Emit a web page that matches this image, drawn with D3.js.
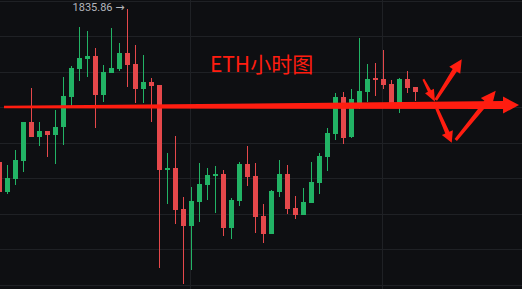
<!DOCTYPE html>
<html>
<head>
<meta charset="utf-8">
<script src="https://cdn.jsdelivr.net/npm/d3@7"></script>
<style>
  html, body { margin: 0; padding: 0; background: #0e0f12; overflow: hidden; }
  svg { display: block; }
</style>
</head>
<body>
<svg id="chart"></svg>
<script>
// ETH 1h candles
const opens  = [1814.25,1810.07,1811.90,1814.44,1819.89,1817.82,1818.62,1818.10,1819.15,1823.45,
                1827.39,1828.80,1829.18,1823.73,1826.83,1827.39,1829.61,1828.00,1824.58,1825.52,
                1825.10,1813.17,1813.41,1807.63,1805.28,1808.66,1811.06,1812.32,1812.56,1805.00,
                1808.80,1813.97,1812.28,1806.65,1804.15,1810.03,1812.56,1807.77,1806.79,1808.48,
                1811.30,1814.96,1818.20,1823.41,1817.73,1822.42,1824.11,1826.08,1825.94,1825.24,
                1822.42,1825.94,1824.82];
const highs  = [1814.54,1813.83,1815.94,1819.95,1824.68,1819.93,1818.65,1821.58,1826.18,1827.77,
                1833.27,1832.70,1830.31,1827.87,1833.13,1831.01,1835.86,1830.73,1829.37,1826.08,
                1825.10,1815.52,1817.92,1809.37,1810.73,1814.07,1813.41,1813.69,1813.17,1809.14,
                1814.25,1816.51,1814.15,1808.34,1810.31,1814.54,1813.83,1809.46,1810.59,1814.25,
                1815.52,1819.04,1823.97,1824.11,1824.49,1831.68,1828.10,1828.24,1830.03,1825.80,
                1826.08,1827.07,1824.82];
const lows   = [1809.75,1809.79,1810.97,1812.80,1817.80,1816.55,1814.92,1814.01,1816.69,1822.14,
                1825.70,1826.27,1819.08,1822.75,1826.80,1827.11,1824.82,1822.56,1822.56,1819.93,
                1799.28,1808.38,1805.56,1797.07,1799.04,1805.76,1808.94,1807.03,1803.79,1803.45,
                1808.06,1810.92,1804.25,1802.89,1804.10,1809.37,1806.97,1806.27,1806.75,1808.45,
                1809.79,1812.99,1817.39,1816.83,1817.70,1821.72,1822.70,1823.55,1824.54,1822.28,
                1821.15,1823.97,1822.85];
const closes = [1810.07,1812.00,1814.54,1819.89,1817.82,1818.62,1818.10,1819.18,1823.55,1827.49,
                1828.90,1829.18,1823.73,1826.93,1827.49,1829.61,1827.96,1824.58,1825.52,1825.00,
                1813.17,1813.41,1807.54,1805.28,1808.76,1811.15,1812.42,1812.56,1805.00,1808.90,
                1813.97,1812.18,1806.55,1804.15,1810.17,1812.56,1807.63,1806.79,1808.62,1811.44,
                1815.10,1818.34,1823.41,1817.68,1823.13,1824.25,1825.94,1825.80,1825.10,1822.42,
                1825.94,1824.68,1824.11];

const gridPrices = [1797, 1802, 1807, 1812, 1817, 1822, 1827, 1832, 1837];
const dayStarts = [24, 48];          // candle index where a new day begins
const highLabel = "1835.86";
const title = "ETH小时图";

// hand-drawn arrows, [candle index, price] from -> to
const arrows = [
  { from: [0.56, 1822.0],  to: [64.94, 1822.28], w0: 2.5, w1: 8, hl: 16, hw: 17 },
  { from: [52.98, 1825.9], to: [54.44, 1822.75], w0: 2, w1: 3.5, hl: 12, hw: 10 },
  { from: [54.53, 1822.99], to: [57.78, 1828.72], w0: 3, w1: 5, hl: 13, hw: 13 },
  { from: [54.65, 1821.82], to: [56.53, 1816.97], w0: 3, w1: 4.5, hl: 11, hw: 12 },
  { from: [57.03, 1817.35], to: [62.03, 1824.30], w0: 3, w1: 5, hl: 15, hw: 14 }
];

const width = 522, height = 289;
const green = "#22b365", red = "#e5484b", annot = "#ff1d10";

const svg = d3.select("#chart").attr("width", width).attr("height", height);

svg.append("rect").attr("width", width).attr("height", height).attr("fill", "#0e0f12");

const x = d3.scaleLinear().domain([0, opens.length - 1]).range([-0.5, 415.5]);
const y = d3.scaleLinear().domain([1797, 1837]).range([284.5, 0.5]);

// grid
const grid = svg.append("g").attr("stroke", "#1f2125").attr("shape-rendering", "crispEdges");
grid.selectAll("line.h")
  .data(gridPrices)
  .enter().append("line")
  .attr("x1", 0).attr("x2", width)
  .attr("y1", d => Math.round(y(d)) + 0.5).attr("y2", d => Math.round(y(d)) + 0.5);
grid.selectAll("line.v")
  .data(dayStarts)
  .enter().append("line")
  .attr("x1", d => Math.round(x(d)) - 1.5).attr("x2", d => Math.round(x(d)) - 1.5)
  .attr("y1", 0).attr("y2", height);

// candles
const candles = opens.map((o, i) => ({ i, o, h: highs[i], l: lows[i], c: closes[i] }));
const cg = svg.append("g").attr("shape-rendering", "crispEdges");
const cand = cg.selectAll("g").data(candles).enter().append("g")
  .attr("fill", d => d.c >= d.o ? green : red);
cand.append("rect")
  .attr("x", d => x(d.i) - 0.5).attr("width", 1)
  .attr("y", d => y(d.h)).attr("height", d => Math.max(1, y(d.l) - y(d.h)));
cand.append("rect")
  .attr("x", d => x(d.i) - 2.5).attr("width", 5)
  .attr("y", d => y(Math.max(d.o, d.c)))
  .attr("height", d => Math.max(1.5, Math.abs(y(d.o) - y(d.c))));

// max high label
const hiIdx = d3.maxIndex(highs);
svg.append("text")
  .attr("x", x(hiIdx) - 3).attr("y", y(highs[hiIdx]) - 1.5)
  .attr("text-anchor", "end").attr("dominant-baseline", "central")
  .attr("font-family", "Roboto, 'DejaVu Sans', sans-serif").attr("font-size", 11)
  .attr("fill", "#b4b6bd")
  .text(highLabel + " \u2192");

// title text
svg.append("text")
  .attr("x", x(26.3)).attr("y", y(1827.0))
  .attr("font-family", "'Noto Sans CJK SC', 'Noto Sans', sans-serif").attr("font-size", 21)
  .attr("fill", annot)
  .text(title);

// arrows
function arrowPath(a) {
  const p0 = [x(a.from[0]), y(a.from[1])], p1 = [x(a.to[0]), y(a.to[1])];
  const dx = p1[0] - p0[0], dy = p1[1] - p0[1], len = Math.hypot(dx, dy);
  const ux = dx / len, uy = dy / len, nx = -uy, ny = ux;
  const b = [p1[0] - ux * a.hl, p1[1] - uy * a.hl];
  const pts = [
    [p0[0] + nx * a.w0 / 2, p0[1] + ny * a.w0 / 2],
    [b[0] + nx * a.w1 / 2, b[1] + ny * a.w1 / 2],
    [b[0] + nx * a.hw / 2, b[1] + ny * a.hw / 2],
    p1,
    [b[0] - nx * a.hw / 2, b[1] - ny * a.hw / 2],
    [b[0] - nx * a.w1 / 2, b[1] - ny * a.w1 / 2],
    [p0[0] - nx * a.w0 / 2, p0[1] - ny * a.w0 / 2]
  ];
  return "M" + pts.map(p => p.join(",")).join("L") + "Z";
}
svg.append("g").selectAll("path")
  .data(arrows)
  .enter().append("path")
  .attr("d", arrowPath)
  .attr("fill", annot);
</script>
</body>
</html>
